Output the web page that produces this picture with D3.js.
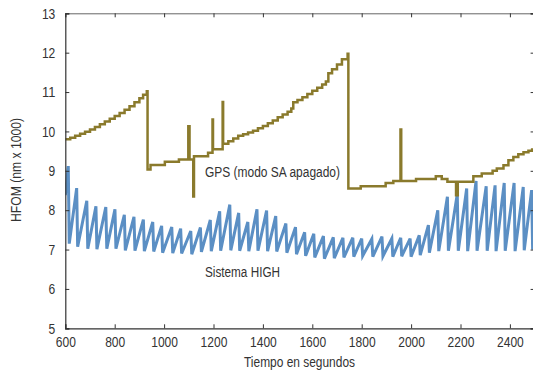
<!DOCTYPE html>
<html>
<head>
<meta charset="utf-8">
<script src="https://cdn.jsdelivr.net/npm/d3@7"></script>
<style>
  body { margin: 0; background: #fff; }
  svg text { font-family: "Liberation Sans", Arial, sans-serif; fill: #333; }
</style>
</head>
<body>
<div id="chart"></div>
<script>
// GPS (modo SA apagado) - stepped HFOM, seconds vs nm x 1000
const gpsT = [600, 620, 640, 660, 680, 700, 720, 740, 760, 780, 800, 820, 840, 860, 880, 900, 915, 930,
  933, 945, 1003, 1060, 1098, 1103, 1118, 1121, 1178, 1196, 1198, 1237, 1239,
  1260, 1280, 1300, 1320, 1340, 1360, 1380, 1400, 1420, 1440, 1460, 1480, 1500, 1515, 1523,
  1540, 1560, 1580, 1600, 1620, 1640, 1655, 1665, 1680, 1700, 1720, 1743,
  1746, 1796, 1897, 1928, 1957, 1960, 2020, 2100, 2124, 2147, 2182, 2189,
  2252, 2286, 2330, 2347, 2374, 2394, 2414, 2434, 2455, 2475, 2490, 2500];
const gpsV = [9.80, 9.84, 9.89, 9.94, 9.99, 10.05, 10.11, 10.18, 10.25, 10.32, 10.39, 10.47, 10.55, 10.64, 10.74, 10.84, 10.93, 11.02,
  9.03, 9.15, 9.23, 9.29, 10.13, 9.29, 8.35, 9.37, 9.46, 10.30, 9.55, 10.75, 9.69,
  9.75, 9.82, 9.89, 9.93, 9.97, 10.02, 10.08, 10.14, 10.21, 10.28, 10.36, 10.43, 10.50, 10.58, 10.74,
  10.80, 10.87, 10.95, 11.03, 11.11, 11.19, 11.27, 11.48, 11.58, 11.70, 11.83, 11.97,
  8.55, 8.61, 8.69, 8.74, 10.05, 8.74, 8.79, 8.86, 8.79, 8.72, 8.38, 8.72,
  8.86, 8.93, 9.00, 9.06, 9.14, 9.27, 9.35, 9.42, 9.47, 9.51, 9.54, 9.54];

// Sistema HIGH - sawtooth: peaks then quick drop to troughs
const highStart = [600, 8.38];
const highEnd = [2500, 7.25];
const hiT = [612, 646, 687, 724, 764, 801, 839, 878, 916, 954, 990, 1031, 1067, 1108, 1147, 1187, 1225,
  1266, 1302, 1339, 1376, 1415, 1452, 1493, 1532, 1569, 1606, 1645, 1685, 1724, 1764, 1800, 1841,
  1882, 1922, 1958, 1996, 2033, 2070, 2108, 2147, 2187, 2225, 2263, 2304, 2340, 2377, 2417, 2454, 2488];
const hiV = [9.12, 8.56, 8.24, 8.10, 8.08, 8.02, 7.88, 7.83, 7.76, 7.70, 7.60, 7.57, 7.53, 7.47, 7.56, 7.75, 7.97,
  8.14, 7.93, 7.70, 8.02, 7.99, 7.85, 7.66, 7.57, 7.44, 7.40, 7.34, 7.31, 7.30, 7.30, 7.28, 7.27,
  7.33, 7.28, 7.30, 7.28, 7.36, 7.62, 8.00, 8.34, 8.41, 8.55, 8.74, 8.61, 8.63, 8.69, 8.69, 8.59, 8.51];
const loT = [616, 650, 691, 728, 768, 805, 843, 882, 920, 958, 994, 1035, 1071, 1112, 1151, 1191, 1229,
  1270, 1306, 1343, 1380, 1419, 1456, 1497, 1536, 1573, 1610, 1649, 1689, 1728, 1768, 1804, 1845,
  1886, 1926, 1962, 2000, 2037, 2074, 2112, 2151, 2191, 2229, 2267, 2308, 2344, 2381, 2421, 2458, 2492];
const loV = [7.15, 7.07, 7.02, 7.01, 7.02, 7.02, 6.98, 6.97, 6.96, 6.95, 6.92, 6.91, 6.90, 6.88, 6.94, 6.96, 6.97,
  6.98, 6.97, 6.96, 6.97, 6.96, 6.95, 6.92, 6.88, 6.84, 6.80, 6.77, 6.78, 6.80, 6.82, 6.84, 6.82,
  6.83, 6.82, 6.83, 6.82, 6.86, 6.92, 6.96, 6.97, 6.97, 6.96, 6.97, 6.97, 6.96, 6.97, 6.96, 6.98, 7.00];

const xTicks = [600, 800, 1000, 1200, 1400, 1600, 1800, 2000, 2200, 2400];
const yTicks = [5, 6, 7, 8, 9, 10, 11, 12, 13];

const width = 533, height = 375;
const margin = { top: 13.3, right: -1.6, bottom: 46.7, left: 65.3 };

// the original uses a condensed face; squeeze glyphs to match
const digitW = 6.7;
function squeeze(sel, w) {
  sel.attr("textLength", w).attr("lengthAdjust", "spacingAndGlyphs");
}

const svg = d3.select("#chart").append("svg")
  .attr("width", width)
  .attr("height", height);

const x = d3.scaleLinear().domain([600, 2500]).range([margin.left, width - margin.right]);
const y = d3.scaleLinear().domain([5, 13]).range([height - margin.bottom, margin.top]);

svg.append("clipPath").attr("id", "plot")
  .append("rect")
  .attr("x", margin.left).attr("y", margin.top)
  .attr("width", x(2500) - margin.left).attr("height", y(5) - margin.top);

// blue sawtooth
const highPts = [highStart];
hiT.forEach((t, i) => {
  highPts.push([t, hiV[i]]);
  highPts.push([loT[i], loV[i]]);
});
highPts.push(highEnd);

svg.append("path")
  .datum(highPts)
  .attr("clip-path", "url(#plot)")
  .attr("fill", "none")
  .attr("stroke", "#5b8fc4")
  .attr("stroke-width", 3)
  .attr("stroke-linejoin", "miter")
  .attr("d", d3.line().x(d => x(d[0])).y(d => y(d[1])));

// GPS steps
svg.append("path")
  .datum(gpsT.map((t, i) => [t, gpsV[i]]))
  .attr("clip-path", "url(#plot)")
  .attr("fill", "none")
  .attr("stroke", "#8a7a2c")
  .attr("stroke-width", 2.5)
  .attr("d", d3.line().curve(d3.curveStepAfter).x(d => x(d[0])).y(d => y(d[1])));

// axes (ticks point inward)
const axisColor = "#333";
const gx = svg.append("g")
  .attr("transform", `translate(0,${y(5)})`)
  .call(d3.axisBottom(x).tickValues(xTicks).tickSize(-4).tickPadding(8).tickFormat(d3.format("d")));
const gxTop = svg.append("g")
  .attr("transform", `translate(0,${y(13)})`)
  .call(d3.axisTop(x).tickValues(xTicks).tickSize(-4).tickFormat(""));
const gy = svg.append("g")
  .attr("transform", `translate(${x(600)},0)`)
  .call(d3.axisLeft(y).tickValues(yTicks).tickSize(-4).tickPadding(10));
const gyRight = svg.append("g")
  .attr("transform", `translate(${x(2500)},0)`)
  .call(d3.axisRight(y).tickValues(yTicks).tickSize(-4).tickFormat(""));

[gx, gxTop, gy, gyRight].forEach(g => {
  g.select(".domain").attr("stroke", axisColor).attr("stroke-width", 1.2);
  g.selectAll(".tick line").attr("stroke", axisColor);
  g.selectAll(".tick text")
    .attr("font-size", 15)
    .attr("fill", "#333")
    .each(function (d) { squeeze(d3.select(this), String(d).length * digitW); });
});
gxTop.select(".domain").attr("stroke", "#666").attr("stroke-width", 1);

// series labels
svg.append("text")
  .attr("x", 205).attr("y", 176.5)
  .attr("font-size", 14)
  .text("GPS (modo SA apagado)")
  .call(squeeze, 135);
svg.append("text")
  .attr("x", 205).attr("y", 276.5)
  .attr("font-size", 14)
  .text("Sistema HIGH")
  .call(squeeze, 75);

// axis titles
svg.append("text")
  .attr("x", 244).attr("y", 367)
  .attr("font-size", 14)
  .text("Tiempo en segundos")
  .call(squeeze, 111);
svg.append("text")
  .attr("transform", `translate(21,222) rotate(-90)`)
  .attr("font-size", 14)
  .text("HFOM (nm x 1000)")
  .call(squeeze, 104);
</script>
</body>
</html>
